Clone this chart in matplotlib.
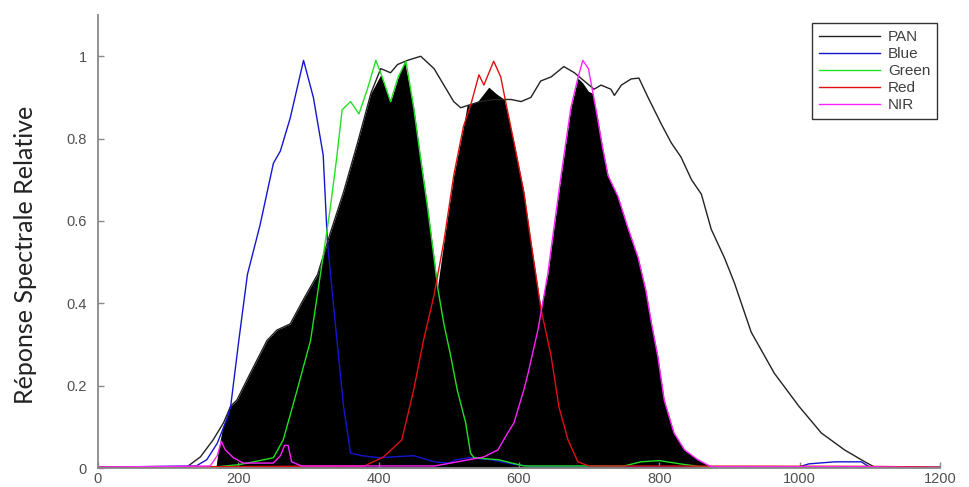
import matplotlib
matplotlib.use('Agg')
import matplotlib.pyplot as plt
from matplotlib.ticker import FixedLocator, FixedFormatter

# Spectral response curves (wavelength, relative response)
pan_x = [0, 110, 127, 146, 164, 179, 189, 198, 217, 241, 255, 274, 293, 313, 331, 350, 370, 389,
         403, 417, 427, 441, 460, 479, 493, 507, 517, 526, 545, 565, 589, 603, 617, 631, 646, 664,
         679, 693, 707, 717, 731, 736, 746, 760, 771, 784, 803, 817, 831, 846, 860, 874, 893, 907,
         931, 964, 999, 1031, 1064, 1093, 1107, 1200]
pan_y = [0, 0, 0.003, 0.027, 0.068, 0.11, 0.15, 0.165, 0.23, 0.31, 0.335, 0.35, 0.41, 0.47, 0.57, 0.67, 0.79, 0.91,
         0.97, 0.96, 0.98, 0.99, 1.0, 0.97, 0.93, 0.89, 0.875, 0.88, 0.89, 0.895, 0.895, 0.89, 0.90, 0.94, 0.95, 0.975,
         0.96, 0.94, 0.92, 0.93, 0.92, 0.905, 0.93, 0.945, 0.947, 0.90, 0.835, 0.79, 0.755, 0.70, 0.665, 0.58, 0.51, 0.45,
         0.33, 0.23, 0.15, 0.085, 0.044, 0.015, 0.002, 0]

blue_x = [0, 140, 155, 170, 184, 189, 200, 213, 231, 250, 260, 274, 293, 307, 321, 327, 336, 350, 360,
          376, 400, 450, 480, 500, 510, 530, 560, 590, 620, 1000, 1013, 1050, 1088, 1100, 1200]
blue_y = [0.002, 0.005, 0.02, 0.06, 0.12, 0.148, 0.30, 0.47, 0.59, 0.74, 0.77, 0.85, 0.99, 0.90, 0.76, 0.55, 0.39, 0.15, 0.036,
          0.03, 0.025, 0.03, 0.015, 0.012, 0.02, 0.025, 0.02, 0.01, 0.003, 0.003, 0.01, 0.015, 0.015, 0.002, 0.002]

green_x = [0, 170, 200, 213, 236, 250, 264, 284, 303, 317, 331, 340, 348, 360, 372, 384, 396, 405, 417,
           428, 439, 450, 460, 470, 479, 484, 493, 503, 512, 524, 531, 536, 571, 607, 750, 774, 800, 830, 860, 1200]
green_y = [0, 0.003, 0.008, 0.012, 0.02, 0.025, 0.068, 0.19, 0.31, 0.47, 0.63, 0.75, 0.87, 0.89, 0.86, 0.92, 0.99, 0.95, 0.89,
           0.95, 0.988, 0.875, 0.75, 0.63, 0.51, 0.44, 0.35, 0.27, 0.19, 0.11, 0.036, 0.025, 0.02, 0.005, 0.005, 0.015, 0.018, 0.01, 0.003, 0]

red_x = [0, 380, 407, 433, 450, 464, 479, 493, 507, 521, 531, 543, 550, 564, 574, 581, 593, 607, 617,
         631, 646, 657, 670, 684, 700, 1100, 1200]
red_y = [0.002, 0.005, 0.027, 0.068, 0.19, 0.31, 0.42, 0.55, 0.71, 0.83, 0.88, 0.955, 0.93, 0.988, 0.95, 0.89, 0.79, 0.67, 0.55,
         0.39, 0.27, 0.148, 0.068, 0.015, 0.005, 0.004, 0.002]

nir_x = [0, 160, 170, 176, 181, 193, 207, 250, 260, 266, 271, 276, 290, 480, 503, 550, 570, 584, 593, 607,
         613, 627, 641, 646, 660, 674, 684, 691, 699, 705, 712, 719, 727, 741, 755, 770, 781, 789, 798,
         807, 821, 836, 855, 874, 1100, 1200]
nir_y = [0.002, 0.005, 0.03, 0.065, 0.045, 0.025, 0.012, 0.012, 0.03, 0.055, 0.055, 0.015, 0.005, 0.005, 0.012, 0.027, 0.044, 0.085, 0.11, 0.19,
         0.23, 0.335, 0.47, 0.535, 0.71, 0.875, 0.947, 0.99, 0.97, 0.915, 0.85, 0.78, 0.71, 0.66, 0.585, 0.51, 0.43, 0.35, 0.27,
         0.165, 0.085, 0.044, 0.02, 0.003, 0.003, 0]

# black filled area
fill_x = [160, 168, 172, 178, 184, 189, 198, 217, 241, 255, 274, 293, 313, 331, 350, 370, 389, 403, 417,
          428, 437, 450, 460, 470, 479, 484, 493, 507, 521, 526, 541, 557, 567, 579, 593, 607, 617, 631,
          641, 646, 660, 674, 684, 691, 699, 705, 712, 719, 727, 741, 755, 770, 781, 789, 798, 807, 821,
          836, 855, 874, 880]
fill_y = [0, 0, 0.05, 0.10, 0.13, 0.15, 0.165, 0.23, 0.31, 0.335, 0.35, 0.41, 0.47, 0.57, 0.67, 0.79, 0.91, 0.955, 0.89,
          0.95, 0.988, 0.875, 0.75, 0.63, 0.51, 0.44, 0.55, 0.71, 0.83, 0.88, 0.89, 0.925, 0.91, 0.895, 0.79, 0.67, 0.55, 0.39,
          0.47, 0.535, 0.71, 0.875, 0.947, 0.935, 0.915, 0.91, 0.85, 0.78, 0.71, 0.66, 0.585, 0.51, 0.43, 0.35, 0.27, 0.165, 0.085,
          0.044, 0.02, 0.003, 0]

x_ticks = [0, 200, 400, 600, 800, 1000, 1200]
y_ticks = [0, 0.2, 0.4, 0.6, 0.8, 1]
y_tick_labels = ['0', '0.2', '0.4', '0.6', '0.8', '1']

fig = plt.figure(figsize=(9.7, 4.87), dpi=100)
ax = fig.add_axes([0.101, 0.039, 0.868, 0.930])

ax.fill_between(fill_x, fill_y, 0, color='black', linewidth=0)
ax.plot(pan_x, pan_y, color='#222222', lw=1.0, label='PAN')
ax.plot(blue_x, blue_y, color='#1515d0', lw=1.0, label='Blue')
ax.plot(green_x, green_y, color='#22e022', lw=1.0, label='Green')
ax.plot(red_x, red_y, color='#e01010', lw=1.0, label='Red')
ax.plot(nir_x, nir_y, color='#ff22ff', lw=1.0, label='NIR')

ax.set_xlim(0, 1200)
ax.set_ylim(0, 1.1)
ax.xaxis.set_major_locator(FixedLocator(x_ticks))
ax.yaxis.set_major_locator(FixedLocator(y_ticks))
ax.yaxis.set_major_formatter(FixedFormatter(y_tick_labels))

for side in ['top', 'right']:
    ax.spines[side].set_visible(False)
for side in ['left', 'bottom']:
    ax.spines[side].set_color('#888888')
    ax.spines[side].set_linewidth(1.3)

ax.tick_params(direction='in', length=4, width=1, color='#888888', labelcolor='#505050', labelsize=10.5)
ax.tick_params(axis='y', pad=8)
ax.tick_params(axis='x', pad=3)
for lab in ax.get_xticklabels() + ax.get_yticklabels():
    lab.set_family('Liberation Sans')

ax.set_ylabel('Réponse Spectrale Relative', family='Lato', fontsize=18, color='#222222')
ax.yaxis.set_label_coords(-0.073, 0.47)

leg = ax.legend(loc='upper right', bbox_to_anchor=(0.997, 0.982), borderaxespad=0, fancybox=False,
                framealpha=1, edgecolor='#333333', prop={'family': 'Liberation Sans', 'size': 11},
                handlelength=4.0, handletextpad=0.55, labelspacing=0.2, borderpad=0.45)
leg.get_frame().set_linewidth(1)
for t in leg.get_texts():
    t.set_color('#404040')

fig.savefig('out.png', dpi=100)
